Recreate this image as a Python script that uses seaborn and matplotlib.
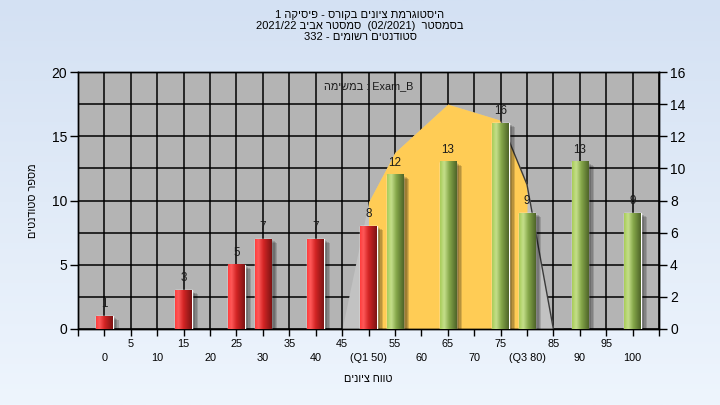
import numpy as np
import pandas as pd
import seaborn as sns
import matplotlib.pyplot as plt
from matplotlib import patheffects
from matplotlib.colors import LinearSegmentedColormap

# values
grades = [0, 5, 10, 15, 20, 25, 30, 35, 40, 45, 50,
          55, 60, 65, 70, 75, 80, 85, 90, 95, 100]
counts = [1, 0, 0, 3, 0, 5, 7, 0, 7, 0, 8,
          12, 0, 13, 0, 16, 9, 0, 13, 0, 9]
pass_grade = 55
q1, q3 = 50, 80

# smoothed distribution (right axis)
curve_grades = [45, 50, 55, 60, 65, 70, 75, 80, 85]
curve_values = [0, 7.9, 11.0, 12.5, 14.0, 13.5, 13.0, 9.0, 0]

# Hebrew strings are kept in visual (display) order, since matplotlib
# lays glyphs out left to right without bidi reordering
title_lines = ["1 הקיסיפ - סרוקב םינויצ תמרגוטסיה",
               "2021/22 ביבא רטסמס  (02/2021)  רטסמסב",
               "332 - םימושר םיטנדוטס"]
task_label = "המישמב : Exam_B"
x_title = "םינויצ חווט"
y_title = "םיטנדוטס רפסמ"
q_labels = {q1: "(Q1 50)", q3: "(Q3 80)"}

df = pd.DataFrame({"grade": grades, "count": counts})
df = df[df["count"] > 0].copy()
df["group"] = np.where(df["grade"] < pass_grade, "fail", "pass")

sns.set_theme(style="white")
plt.rcParams['font.family'] = ['Liberation Sans', 'DejaVu Sans']

fig = plt.figure(figsize=(7.2, 4.05), dpi=100)

# light blue gradient background
bg = fig.add_axes([0, 0, 1, 1], zorder=-10)
bg.imshow(np.linspace(0, 1, 256).reshape(-1, 1), aspect='auto', extent=[0, 1, 0, 1],
          cmap=LinearSegmentedColormap.from_list('bg', ['#d4e1f3', '#eef5fd']))
bg.axis('off')

ax = fig.add_axes([78 / 720, 1 - 329 / 405, 581 / 720, 257 / 405])
ax2 = ax.twinx()
ax.set_zorder(ax2.get_zorder() + 1)
ax.patch.set_visible(False)
ax2.patch.set_visible(True)
ax2.patch.set_facecolor('#b4b4b4')

# area curve behind the bars
cx = np.array(curve_grades)
cy = np.array(curve_values)
inner = (cx >= q1) & (cx <= q3)
ax2.fill_between(cx, cy, color='#c2c2c2', lw=0, zorder=1)
ax2.fill_between(cx[inner], cy[inner], color='#ffcc55', lw=0, zorder=2)
ax2.plot(cx[cx >= 75], cy[cx >= 75], color='#3a3a3a', lw=1, zorder=3)

ax2.set_axisbelow(True)
ax2.xaxis.set_visible(True)
ax2.tick_params(axis='x', bottom=False, top=False, labelbottom=False, labeltop=False)
ax2.grid(True, which='major', color='black', lw=1.1)

sns.barplot(data=df, x="grade", y="count", hue="group",
            palette={"fail": "#e02828", "pass": "#8fb04a"},
            native_scale=True, width=0.62, dodge=False, legend=False,
            ax=ax, zorder=3)

red_cmap = LinearSegmentedColormap.from_list(
    'r', [(0, '#ff3c3c'), (0.2, '#ff5a5a'), (0.5, '#d42424'), (1, '#7c1414')])
green_cmap = LinearSegmentedColormap.from_list(
    'g', [(0, '#a8cc58'), (0.25, '#c6e08c'), (0.55, '#86a84a'), (1, '#4e6428')])

shadow = [patheffects.SimplePatchShadow(offset=(o, -o * 0.6), shadow_rgbFace='black', alpha=0.15)
          for o in (1.5, 2.5, 3.5, 4.5)] + [patheffects.Normal()]

for container, cmap in zip(ax.containers, [red_cmap, green_cmap]):
    for bar in container:
        bar.set_path_effects(shadow)
        x0, w, h = bar.get_x(), bar.get_width(), bar.get_height()
        ax.imshow(np.linspace(0, 1, 64).reshape(1, -1), extent=[x0, x0 + w, 0, h],
                  aspect='auto', cmap=cmap, interpolation='bicubic', zorder=4)
    ax.bar_label(container, padding=4.5, fontsize=8.4, color='#1a1a1a', zorder=6)

# axes, ticks and labels
tick_pos = [-5] + grades + [105]
tick_txt = [""]
for g in grades:
    if g % 10 == 5:
        tick_txt.append(str(g))
    else:
        tick_txt.append("\n" + q_labels.get(g, str(g)))
tick_txt.append("")
ax.set_xticks(tick_pos)
ax.set_xticklabels(tick_txt)
for t in ax.get_xticklabels():
    t.set_linespacing(1.5)
ax.set_xlim(-5, 105)
ax.set_ylim(0, 20)
ax.set_yticks([0, 5, 10, 15, 20])
ax2.set_ylim(0, 16)
ax2.set_yticks(range(0, 17, 2))

ax.tick_params(axis='x', bottom=True, length=5, width=1, color='black', labelsize=7.8, pad=2.5, labelcolor='black')
ax.tick_params(axis='y', left=True, length=6, width=1, color='black', labelsize=10, pad=2, labelcolor='black')
ax2.tick_params(axis='y', right=True, length=6, width=1, color='black', labelsize=10, pad=2, labelcolor='black')

for a in (ax, ax2):
    for s in a.spines.values():
        s.set_color('black')
        s.set_linewidth(1)

ax.set_xlabel(x_title, fontsize=7.8, color='black')
ax.xaxis.set_label_coords(0.5, -0.175)
ax.set_ylabel(y_title, fontsize=7.8, color='black')
ax.yaxis.set_label_coords(-0.068, 0.5)

ax.text(0.5, 0.945, task_label, transform=ax.transAxes, ha='center', va='center',
        fontsize=7.8, color='#1a1a1a', zorder=7)

fig.text(0.5, 1 - 10 / 405, "\n".join(title_lines), ha='center', va='top',
         fontsize=8, linespacing=1.12, color='black')

fig.savefig("out.png", dpi=100)
